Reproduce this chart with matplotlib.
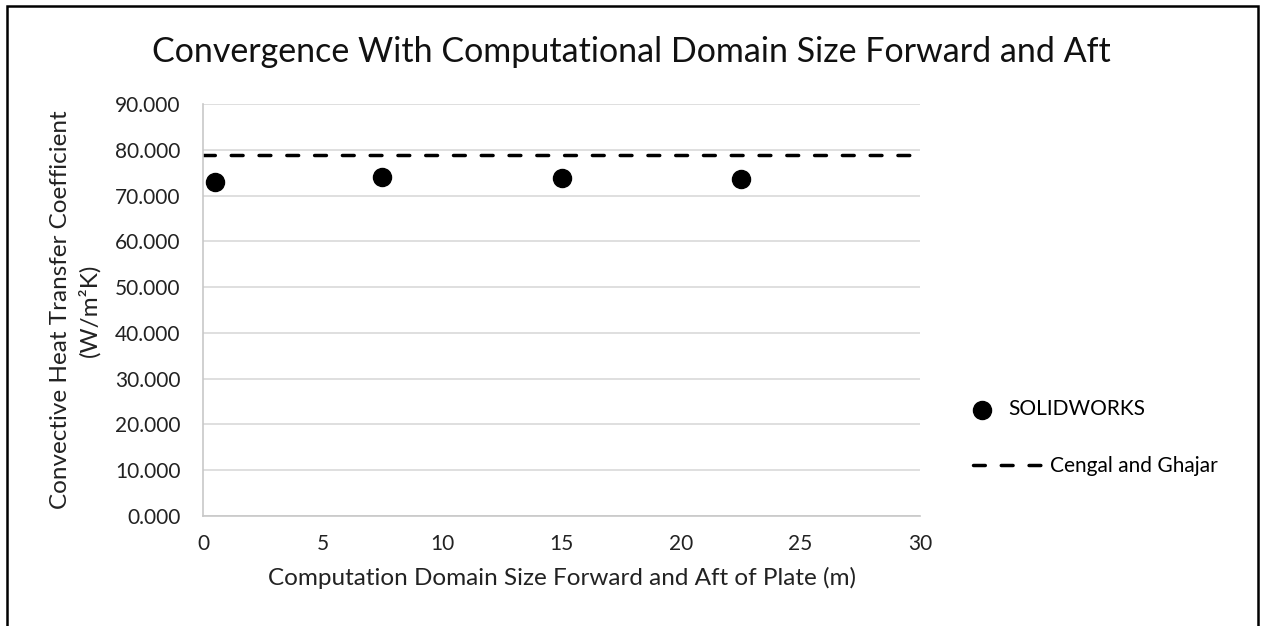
import matplotlib.pyplot as plt
from matplotlib.patches import Rectangle
from matplotlib.ticker import FormatStrFormatter

plt.rcParams['font.family'] = ['Lato', 'DejaVu Sans']

# SOLIDWORKS results vs. domain size
domain_size = [0.5, 7.5, 15, 22.5]
htc_solidworks = [73.0, 74.0, 73.8, 73.7]
# analytical reference value (Cengal and Ghajar)
htc_cengel = 78.9

x_ticks = [0, 5, 10, 15, 20, 25, 30]
y_ticks = [0, 10, 20, 30, 40, 50, 60, 70, 80, 90]

W, H = 1262, 626


def main():
    fig = plt.figure(figsize=(W / 100, H / 100), dpi=100)
    ax = fig.add_axes([203 / W, 1 - 516 / H, 717 / W, 412 / H])

    pts = ax.scatter(domain_size, htc_solidworks, s=13**2, color='black',
                     label='SOLIDWORKS', zorder=3)
    ref = ax.axhline(htc_cengel, color='black', linewidth=2.5, dashes=(3.4, 4.6),
                     dash_capstyle='round', label='Cengal and Ghajar', zorder=2)

    ax.set_xlim(0, 30)
    ax.set_ylim(0, 90)
    ax.set_xticks(x_ticks)
    ax.set_yticks(y_ticks)
    ax.yaxis.set_major_formatter(FormatStrFormatter('%.3f'))
    ax.tick_params(length=0, labelsize=15, colors='#222222')
    ax.tick_params(axis='x', pad=13)
    ax.tick_params(axis='y', pad=16)
    ax.grid(axis='y', color='#d9d9d9', linewidth=1.2)
    ax.set_axisbelow(True)
    for s in ['top', 'right']:
        ax.spines[s].set_visible(False)
    for s in ['left', 'bottom']:
        ax.spines[s].set_color('#c8c8c8')
        ax.spines[s].set_linewidth(1.2)

    fig.text(0.5, 1 - 52 / H, 'Convergence With Computational Domain Size Forward and Aft',
             fontsize=24.5, ha='center', va='center', color='#111111')
    ax.set_xlabel('Computation Domain Size Forward and Aft of Plate (m)',
                  fontsize=17.5, color='#222222')
    ax.xaxis.set_label_coords(0.5, -(578 - 516) / 412)
    ax.xaxis.label.set_va('center')
    ax.set_ylabel('Convective Heat Transfer Coefficient\n(W/m\u00b2K)',
                  fontsize=17.5, color='#222222', linespacing=1.35)
    ax.yaxis.set_label_coords(-(203 - 100) / 717, 0.5)

    # two legends so each entry gets its own handle width
    leg1 = ax.legend([pts], ['SOLIDWORKS'], loc='center left',
                     bbox_to_anchor=(966 / W, 1 - 409 / H), bbox_transform=fig.transFigure,
                     frameon=False, fontsize=15, handlelength=1.5, handletextpad=0.55,
                     borderpad=0, borderaxespad=0, scatterpoints=1)
    ax.add_artist(leg1)
    ax.legend([ref], ['Cengal and Ghajar'], loc='center left',
              bbox_to_anchor=(973 / W, 1 - 466 / H), bbox_transform=fig.transFigure,
              frameon=False, fontsize=15, handlelength=3.3, handletextpad=0.42,
              borderpad=0, borderaxespad=0)

    # outer chart border (bottom edge falls outside the image)
    fig.add_artist(Rectangle((7.3 / W, -0.05), (1257.5 - 7.3) / W, 1.05 - 5.8 / H,
                             transform=fig.transFigure, fill=False,
                             edgecolor='black', linewidth=1.8))

    fig.savefig('out.png', dpi=100)


if __name__ == '__main__':
    main()
